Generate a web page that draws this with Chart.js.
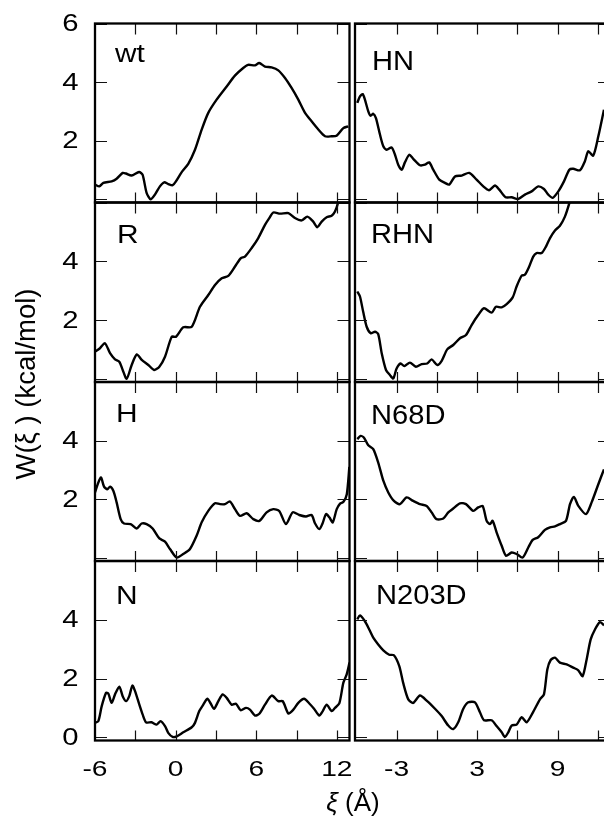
<!DOCTYPE html>
<html><head><meta charset="utf-8">
<script src="https://cdn.jsdelivr.net/npm/chart.js@4.4.1/dist/chart.umd.min.js"></script>
<style>
html,body{margin:0;padding:0;width:604px;height:820px;overflow:hidden;background:#fff;}
canvas{position:absolute;left:0;top:0;}
</style></head><body>
<div id="wrap"></div>
<script>
// ---------------- data ----------------
const wtX = [-6,-5.68,-5.38,-4.76,-4.39,-3.94,-3.7,-3.28,-2.72,-2.46,-2.16,-1.86,-1.54,-1.17,-0.85,-0.55,-0.22,0.02,0.44,0.94,1.44,1.94,2.43,3.05,3.8,4.41,5.03,5.4,5.9,6.22,6.65,7.14,7.64,8.14,8.63,9.13,9.63,10.12,10.62,11.12,11.61,11.98,12.48,12.85];
const wtY = [0.5,0.44,0.56,0.61,0.7,0.9,0.88,0.81,0.93,0.84,0.22,0.0,0.16,0.44,0.58,0.52,0.48,0.61,0.92,1.21,1.69,2.38,2.95,3.4,3.85,4.22,4.48,4.59,4.57,4.65,4.53,4.5,4.4,4.14,3.8,3.4,2.95,2.66,2.38,2.15,2.15,2.17,2.43,2.49];

const hnX = [-5.93,-5.73,-5.53,-5.36,-5.11,-4.94,-4.74,-4.54,-4.24,-3.99,-3.74,-3.37,-3.12,-2.88,-2.62,-2.38,-2.06,-1.76,-1.26,-0.89,-0.57,-0.27,0.18,0.6,0.92,1.35,1.85,2.41,2.96,3.46,3.88,4.33,4.65,5.12,5.57,6.06,6.56,7.06,7.55,7.98,8.3,8.63,9.05,9.47,9.87,10.16,10.66,11.03,11.28,11.65,12.03,12.45];
const hnY = [3.29,3.51,3.59,3.4,3.0,2.85,2.92,2.77,2.21,1.81,1.69,1.77,1.52,1.18,1.01,1.26,1.52,1.38,1.16,1.18,1.26,1.01,0.67,0.56,0.5,0.78,0.81,0.9,0.67,0.44,0.31,0.47,0.33,0.07,0.07,0.01,0.16,0.27,0.44,0.35,0.16,0.05,0.27,0.61,1.01,1.04,0.99,1.3,1.64,1.49,2.15,3.06];

const rX = [-6,-5.63,-5.26,-4.88,-4.51,-4.19,-3.94,-3.64,-3.27,-2.89,-2.52,-2.03,-1.6,-1.21,-0.79,-0.29,0.03,0.57,1.2,1.81,2.43,2.93,3.43,3.92,4.42,4.84,5.16,5.66,6.15,6.65,6.97,7.27,7.77,8.39,8.88,9.38,9.8,10.24,10.54,10.87,11.24,11.61,11.86,12.11,12.3];
const rY = [0.92,1.04,1.21,0.87,0.66,0.58,0.3,0.0,0.47,0.83,0.64,0.47,0.3,0.41,0.75,1.43,1.43,1.75,1.77,2.45,2.85,3.19,3.42,3.5,3.82,4.1,4.16,4.45,4.79,5.24,5.47,5.66,5.62,5.64,5.47,5.39,5.52,5.35,5.16,5.35,5.5,5.55,5.69,6.03,6.5];

const rhnX = [-5.93,-5.73,-5.49,-5.23,-4.93,-4.61,-4.37,-4.11,-3.79,-3.5,-3.25,-3.0,-2.7,-2.43,-2.01,-1.56,-1.13,-0.72,-0.39,0.03,0.36,0.77,1.22,1.72,2.17,2.59,3.08,3.51,4.08,4.4,4.83,5.2,5.65,5.94,6.32,6.56,6.88,7.18,7.43,7.81,8.13,8.43,8.8,9.17,9.54,9.87,10.1];
const rhnY = [2.97,2.8,2.28,1.77,1.55,1.6,1.52,0.87,0.3,0.13,0.01,0.35,0.52,0.43,0.55,0.41,0.5,0.52,0.66,0.47,0.61,1.0,1.15,1.38,1.49,1.83,2.17,2.4,2.25,2.45,2.43,2.54,2.77,3.14,3.51,3.54,3.82,4.16,4.28,4.28,4.5,4.79,5.05,5.21,5.52,5.98,6.4];

const hX = [-6,-5.75,-5.55,-5.33,-5.08,-4.88,-4.63,-4.39,-4.09,-3.84,-3.35,-2.9,-2.53,-2.16,-1.71,-1.21,-0.79,-0.42,0.08,0.57,1.07,1.56,1.94,2.43,2.93,3.3,3.67,4.04,4.42,4.79,5.29,5.78,6.23,6.77,7.27,7.71,8.21,8.71,9.2,9.7,10.12,10.37,10.69,10.94,11.19,11.44,11.69,11.99,12.24,12.49,12.74,12.93];
const hY = [2.23,2.57,2.74,2.43,2.34,2.43,2.28,1.89,1.32,1.17,1.15,1.0,1.17,1.15,1.0,0.66,0.55,0.3,0.01,0.13,0.3,0.75,1.21,1.6,1.86,1.83,1.83,1.92,1.66,1.43,1.52,1.32,1.26,1.55,1.66,1.6,1.15,1.55,1.46,1.41,1.46,1.18,0.98,1.18,1.49,1.38,1.21,1.66,1.85,1.91,2.17,3.1];

const n68dX = [-5.93,-5.68,-5.43,-5.11,-4.74,-4.37,-3.99,-3.62,-3.2,-2.75,-2.25,-1.76,-1.26,-0.76,-0.39,-0.02,0.48,0.85,1.22,1.72,2.17,2.71,3.08,3.41,3.71,3.96,4.15,4.45,4.83,5.15,5.57,5.94,6.39,6.81,7.14,7.55,8.05,8.43,8.8,9.17,9.62,9.92,10.21,10.54,11.11,11.53,12.03,12.45];
const n68dY = [4.05,4.16,4.1,3.84,3.71,3.25,2.63,2.23,1.94,1.83,2.06,1.94,1.83,1.77,1.55,1.32,1.34,1.55,1.68,1.86,1.83,1.6,1.72,1.77,1.26,1.15,1.26,0.87,0.41,0.07,0.18,0.13,0.01,0.35,0.61,0.7,0.95,1.04,1.07,1.15,1.26,1.83,2.08,1.77,1.49,1.89,2.51,3.02];

const nX = [-6,-5.75,-5.5,-5.18,-5.01,-4.76,-4.51,-4.19,-3.94,-3.69,-3.45,-3.22,-3.02,-2.7,-2.45,-2.2,-1.79,-1.41,-1.12,-0.79,-0.55,-0.22,0.08,0.57,1.2,1.44,1.76,2.06,2.36,2.61,2.86,3.18,3.5,3.8,4.17,4.49,4.84,5.24,5.53,5.91,6.23,6.65,7.15,7.64,7.97,8.39,8.76,9.13,9.56,9.95,10.3,10.69,10.95,11.24,11.61,11.86,12.18,12.48,12.73,12.94];
const nY = [0.49,0.55,1.06,1.51,1.49,1.17,1.46,1.72,1.4,1.23,1.4,1.76,1.57,1.11,0.77,0.51,0.51,0.43,0.55,0.38,0.15,0.01,0.03,0.17,0.34,0.49,0.89,1.11,1.31,1.15,0.97,1.23,1.46,1.34,1.11,1.14,0.92,1.0,0.94,0.74,0.8,1.11,1.42,1.23,1.23,0.81,0.94,1.17,1.31,1.15,0.97,0.74,0.89,1.11,0.89,1.0,1.15,1.85,2.14,2.54];

const n203dX = [-5.93,-5.73,-5.36,-5.04,-4.74,-4.37,-3.99,-3.55,-3.2,-2.8,-2.51,-2.13,-1.76,-1.26,-0.72,-0.14,0.36,0.85,1.22,1.59,1.97,2.34,2.84,3.21,3.51,4.08,4.45,4.83,5.07,5.32,5.57,5.94,6.32,6.69,7.14,7.68,7.98,8.23,8.48,8.8,9.17,9.67,10.16,10.54,10.86,11.16,11.46,11.78,12.15,12.45];
const n203dY = [4.01,4.15,3.95,3.67,3.39,3.16,2.96,2.81,2.79,2.42,1.85,1.29,1.17,1.42,1.23,0.97,0.72,0.4,0.28,0.51,0.97,1.19,1.19,0.85,0.58,0.58,0.38,0.17,0.01,0.17,0.4,0.43,0.68,0.51,0.83,1.29,1.46,2.31,2.63,2.71,2.54,2.48,2.37,2.28,2.08,2.65,3.33,3.67,3.92,3.81];

const xTicks = [-6,-3,0,3,6,9,12];
const yTicks = [0,2,4,6];
const leftXLabels = [-6,0,6,12];
const rightXLabels = [-3,3,9];
const yTitle = 'W(\u03BE ) (kcal/mol)';
const xTitleSym = '\u03BE';
const xTitleUnit = ' (\u00C5)';

// ---------------- layout ----------------
const CW = 620, CH = 820;
const COLS = [
  {left:95, right:349.5, xmin:-6, xmax:12.94},
  {left:355, right:610, xmin:-6.1, xmax:12.9}
];
const ROW_TOP = [23.5, 202.5, 382, 561];
const ROW_BOT = [202.5, 382, 561, 740.5];
const YMIN = -0.11, YMAX = 6;

const panels = [
  {name:'wt',    col:0,row:0, xs:wtX,   ys:wtY,   yLabels:[6,4,2], lx:115, ly:62},
  {name:'R',     col:0,row:1, xs:rX,    ys:rY,    yLabels:[4,2],   lx:117, ly:243},
  {name:'H',     col:0,row:2, xs:hX,    ys:hY,    yLabels:[4,2],   lx:116, ly:422},
  {name:'N',     col:0,row:3, xs:nX,    ys:nY,    yLabels:[4,2,0], lx:116, ly:604},
  {name:'HN',    col:1,row:0, xs:hnX,   ys:hnY,   yLabels:[],      lx:372, ly:70},
  {name:'RHN',   col:1,row:1, xs:rhnX,  ys:rhnY,  yLabels:[],      lx:371, ly:243},
  {name:'N68D',  col:1,row:2, xs:n68dX, ys:n68dY, yLabels:[],      lx:371, ly:424},
  {name:'N203D', col:1,row:3, xs:n203dX,ys:n203dY,yLabels:[],      lx:376, ly:604}
];

const FONT = "'Liberation Sans', Arial, sans-serif";

function drawText(ctx, s, x, y, font, align, baseline, sx, rot){
  ctx.save();
  ctx.translate(x, y);
  if (rot) ctx.rotate(rot);
  ctx.scale(sx, 1);
  ctx.font = font; ctx.textAlign = align; ctx.textBaseline = baseline;
  ctx.fillStyle = '#000';
  ctx.fillText(s, 0, 0);
  ctx.restore();
}

function makePlugin(p){
  return {
    id: 'panelFrame',
    afterDraw(chart){
      const ctx = chart.ctx, a = chart.chartArea;
      const xs = chart.scales.x, ys = chart.scales.y;
      ctx.save();
      // ticks
      ctx.strokeStyle = '#111'; ctx.lineWidth = 1.2;
      ctx.beginPath();
      xTicks.forEach(t => {
        const px = Math.round(xs.getPixelForValue(t)) + 0.5;
        if (px < a.left + 2 || px > a.right - 1) return;
        ctx.moveTo(px, a.top); ctx.lineTo(px, a.top + 11);
        ctx.moveTo(px, a.bottom); ctx.lineTo(px, a.bottom - 10);
      });
      yTicks.forEach(t => {
        const py = Math.round(ys.getPixelForValue(t)) + 0.5;
        ctx.moveTo(a.left, py); ctx.lineTo(a.left + 12, py);
        ctx.moveTo(a.right, py); ctx.lineTo(a.right - 12, py);
      });
      ctx.stroke();
      // frame
      ctx.strokeStyle = '#000'; ctx.lineWidth = 2.3;
      ctx.strokeRect(a.left, a.top, a.right - a.left, a.bottom - a.top);
      ctx.restore();

      // y tick labels
      p.yLabels.forEach(v => {
        drawText(ctx, String(v), 78.5, ys.getPixelForValue(v) + 1, '24px ' + FONT, 'right', 'middle', 1.22);
      });
      // panel label
      if (p.col === 0) drawText(ctx, p.name, p.lx, p.ly, '26px ' + FONT, 'left', 'alphabetic', 1.15);
      else drawText(ctx, p.name, p.lx, p.ly, '28px ' + FONT, 'left', 'alphabetic', 1.04);
      // x tick labels
      if (p.row === 3) {
        const labs = p.col === 0 ? leftXLabels : rightXLabels;
        labs.forEach(v => {
          drawText(ctx, String(v), xs.getPixelForValue(v), 770, '22px ' + FONT, 'center', 'middle', 1.28);
        });
      }
      // axis titles (drawn once)
      if (p.col === 0 && p.row === 3) {
        drawText(ctx, yTitle, 27, 384, '27.5px ' + FONT, 'center', 'middle', 1, -Math.PI/2);
        ctx.save();
        ctx.font = 'italic 26px ' + FONT;
        const w1 = ctx.measureText(xTitleSym).width;
        ctx.font = '26px ' + FONT;
        const w2 = ctx.measureText(xTitleUnit).width;
        ctx.restore();
        const x0 = 353 - (w1 + w2) / 2;
        drawText(ctx, xTitleSym, x0, 811, 'italic 26px ' + FONT, 'left', 'alphabetic', 1);
        drawText(ctx, xTitleUnit, x0 + w1, 811, '26px ' + FONT, 'left', 'alphabetic', 1);
      }
    }
  };
}

const wrap = document.getElementById('wrap');
panels.forEach(p => {
  const c = document.createElement('canvas');
  c.width = CW; c.height = CH;
  c.style.width = CW + 'px'; c.style.height = CH + 'px';
  wrap.appendChild(c);
  const col = COLS[p.col];
  new Chart(c.getContext('2d'), {
    type: 'line',
    data: {
      datasets: [{
        data: p.xs.map((x, i) => ({x: x, y: p.ys[i]})),
        borderColor: '#000', borderWidth: 2.4, pointRadius: 0,
        tension: 0.25, fill: false
      }]
    },
    options: {
      responsive: false, animation: false, events: [],
      devicePixelRatio: 1,
      layout: {padding: {left: col.left, right: CW - col.right, top: ROW_TOP[p.row], bottom: CH - ROW_BOT[p.row]}},
      plugins: {legend: {display: false}, tooltip: {enabled: false}, title: {display: false}},
      scales: {
        x: {type: 'linear', min: col.xmin, max: col.xmax, display: false},
        y: {type: 'linear', min: YMIN, max: YMAX, display: false}
      }
    },
    plugins: [makePlugin(p)]
  });
});
</script>
</body></html>
